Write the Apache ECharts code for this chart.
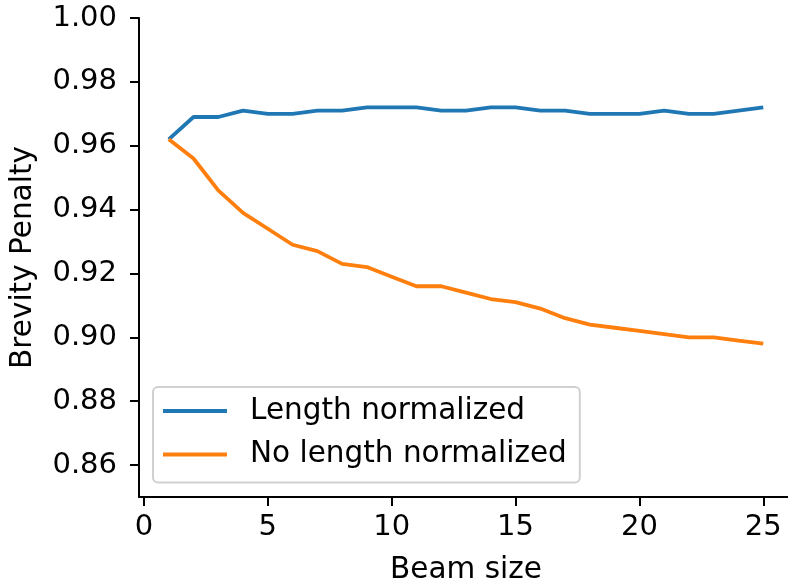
<!DOCTYPE html>
<html>
<head>
<meta charset="utf-8">
<script src="https://cdn.jsdelivr.net/npm/echarts@6/dist/echarts.min.js"></script>
<style>
  html, body { margin: 0; padding: 0; background: #fff; }
  #chart { width: 788px; height: 586px; }
</style>
</head>
<body>
<div id="chart"></div>
<script>
const beamSizes = [1, 2, 3, 4, 5, 6, 7, 8, 9, 10, 11, 12, 13, 14, 15, 16, 17, 18, 19, 20, 21, 22, 23, 24, 25];
const lengthNormalized = [0.962, 0.969, 0.969, 0.971, 0.970, 0.970, 0.971, 0.971, 0.972, 0.972, 0.972, 0.971, 0.971,
  0.972, 0.972, 0.971, 0.971, 0.970, 0.970, 0.970, 0.971, 0.970, 0.970, 0.971, 0.972];
const noLengthNormalized = [0.962, 0.956, 0.946, 0.939, 0.934, 0.929, 0.927, 0.923, 0.922, 0.919, 0.916, 0.916, 0.914,
  0.912, 0.911, 0.909, 0.906, 0.904, 0.903, 0.902, 0.901, 0.900, 0.900, 0.899, 0.898];
const xTicks = [0, 5, 10, 15, 20, 25];
const yTicks = [0.86, 0.88, 0.90, 0.92, 0.94, 0.96, 0.98, 1.00];

const font = "DejaVu Sans";
const tickFs = 29;
const textFs = 29.5;
const chart = echarts.init(document.getElementById("chart"));

function pairs(ys) {
  return beamSizes.map((x, i) => [x, ys[i]]);
}

const option = {
  animation: false,
  textStyle: { fontFamily: font },
  grid: {
    left: 139,
    right: -5,
    top: 18,
    bottom: 89,
    outerBoundsMode: "none",
  },
  legend: {
    orient: "vertical",
    left: 153,
    top: 387,
    padding: [9, 13, 13, 10],
    itemGap: 13.5,
    itemWidth: 64,
    itemHeight: 4,
    icon: "rect",
    borderColor: "#d0d0d0",
    borderWidth: 2,
    borderRadius: 5,
    backgroundColor: "rgba(255,255,255,0.8)",
    textStyle: {
      fontFamily: font,
      fontSize: textFs,
      color: "#000",
      padding: [0, 0, 0, 18],
    },
    data: ["Length normalized", "No length normalized"],
  },
  xAxis: {
    type: "value",
    min: -0.2,
    max: 26.2,
    name: "Beam size",
    nameLocation: "middle",
    nameGap: 58,
    nameTextStyle: { fontFamily: font, fontSize: textFs, color: "#000" },
    splitLine: { show: false },
    axisLine: { show: true, onZero: false, lineStyle: { color: "#000", width: 2 } },
    axisTick: { show: true, length: 9, customValues: xTicks, lineStyle: { color: "#000", width: 2 } },
    axisLabel: {
      customValues: xTicks,
      margin: 16,
      fontFamily: font,
      fontSize: tickFs,
      color: "#000",
    },
  },
  yAxis: {
    type: "value",
    min: 0.85,
    max: 1.0,
    name: "Brevity Penalty",
    nameLocation: "middle",
    nameGap: 101,
    nameTextStyle: { fontFamily: font, fontSize: textFs, color: "#000" },
    splitLine: { show: false },
    axisLine: { show: true, onZero: false, lineStyle: { color: "#000", width: 2 } },
    axisTick: { show: true, length: 9, customValues: yTicks, lineStyle: { color: "#000", width: 2 } },
    axisLabel: {
      customValues: yTicks,
      margin: 22,
      fontFamily: font,
      fontSize: tickFs,
      color: "#000",
      formatter: (v) => v.toFixed(2),
    },
  },
  series: [
    {
      name: "Length normalized",
      type: "line",
      data: pairs(lengthNormalized),
      showSymbol: false,
      symbol: "none",
      lineStyle: { color: "#1f77b4", width: 3.8 },
      itemStyle: { color: "#1f77b4" },
    },
    {
      name: "No length normalized",
      type: "line",
      data: pairs(noLengthNormalized),
      showSymbol: false,
      symbol: "none",
      lineStyle: { color: "#ff7f0e", width: 3.8 },
      itemStyle: { color: "#ff7f0e" },
    },
  ],
};

chart.setOption(option);
</script>
</body>
</html>
